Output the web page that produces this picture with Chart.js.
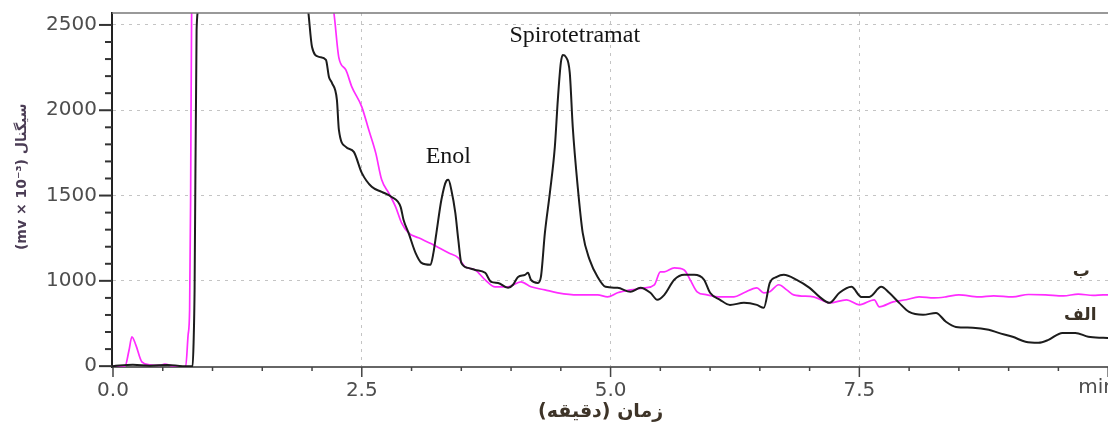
<!DOCTYPE html>
<html>
<head>
<meta charset="utf-8">
<script src="https://cdn.jsdelivr.net/npm/chart.js@4.4.1/dist/chart.umd.min.js"></script>
<style>
  html, body { margin: 0; padding: 0; background: #fff; overflow: hidden; width: 1108px; height: 427px; }
  #wrap { width: 1150px; height: 427px; }
  canvas { display: block; direction: rtl; }
</style>
</head>
<body>
<div id="wrap"><canvas id="grafico" width="1150" height="427"></canvas></div>
<script>
// trace "الف" (black) : time in min / signal
// note: the source y axis jumps from "0" straight to "1000", so the bottom tick sits at 500 here
var tempoA = [0.00, 0.20, 0.37, 0.55, 0.70, 0.80, 0.81, 0.82, 0.84, 0.86, 0.90, 1.90, 1.96, 2.00, 2.07, 2.14, 2.17, 2.20, 2.25, 2.27,
    2.34, 2.42, 2.50, 2.60, 2.70, 2.80, 2.89, 2.92, 2.97, 3.04, 3.10, 3.19, 3.22, 3.25, 3.30, 3.35, 3.37, 3.40, 3.44, 3.47,
    3.50, 3.57, 3.64, 3.74, 3.80, 3.87, 3.97, 4.02, 4.07, 4.14, 4.17, 4.20, 4.27, 4.30, 4.34, 4.39, 4.44, 4.47, 4.50, 4.52,
    4.55, 4.59, 4.62, 4.67, 4.72, 4.79, 4.87, 4.95, 5.07, 5.20, 5.30, 5.40, 5.47, 5.54, 5.64, 5.74, 5.84, 5.94, 6.00, 6.10,
    6.20, 6.34, 6.47, 6.54, 6.60, 6.67, 6.74, 6.87, 7.00, 7.10, 7.20, 7.30, 7.42, 7.52, 7.60, 7.72, 7.80, 7.90, 8.00, 8.14,
    8.27, 8.37, 8.47, 8.64, 8.80, 8.90, 9.04, 9.17, 9.30, 9.40, 9.54, 9.67, 9.80, 9.95, 10.30];
var sinalA = [500, 508, 503, 507, 500, 500, 640, 950, 2470, 2600, 2800, 2800, 2590, 2371, 2313, 2295, 2195, 2160, 2061, 1885,
    1785, 1756, 1633, 1551, 1522, 1492, 1434, 1357, 1281, 1164, 1105, 1094, 1164, 1281, 1475, 1586, 1592, 1533, 1398, 1240,
    1105, 1076, 1064, 1047, 994, 988, 959, 977, 1023, 1035, 1047, 1006, 988, 1023, 1281, 1516, 1785, 2061, 2277, 2324,
    2313, 2219, 1902, 1551, 1281, 1123, 1023, 965, 959, 936, 959, 930, 889, 918, 1006, 1035, 1035, 1006, 930, 889,
    859, 871, 859, 842, 988, 1023, 1035, 1006, 959, 906, 871, 930, 965, 906, 906, 965, 930, 871, 818, 801,
    812, 760, 730, 725, 713, 695, 672, 643, 637, 654, 695, 695, 672, 666, 660];

// trace "ب" (magenta)
var tempoB = [0.00, 0.12, 0.16, 0.19, 0.23, 0.29, 0.37, 0.47, 0.52, 0.60, 0.73, 0.755, 0.77, 0.78, 0.79, 0.82, 2.15, 2.22, 2.27, 2.34,
    2.40, 2.50, 2.57, 2.64, 2.70, 2.77, 2.84, 2.90, 2.97, 3.07, 3.20, 3.37, 3.47, 3.54, 3.64, 3.74, 3.84, 3.97, 4.10, 4.20,
    4.34, 4.47, 4.67, 4.87, 4.97, 5.07, 5.20, 5.34, 5.44, 5.50, 5.54, 5.64, 5.74, 5.80, 5.87, 5.97, 6.10, 6.24, 6.34, 6.47,
    6.54, 6.60, 6.69, 6.77, 6.84, 7.04, 7.20, 7.37, 7.50, 7.65, 7.70, 7.84, 7.97, 8.10, 8.25, 8.37, 8.50, 8.70, 8.85, 9.04,
    9.20, 9.37, 9.55, 9.70, 9.85, 9.95, 10.30];
var sinalB = [500, 500, 590, 672, 623, 525, 508, 505, 512, 500, 496, 684, 830, 1475, 2570, 2800, 2800, 2570, 2307, 2236,
    2137, 2020, 1885, 1750, 1592, 1516, 1434, 1340, 1281, 1252, 1217, 1164, 1135, 1082, 1064, 1006, 965, 965, 994, 965,
    947, 930, 918, 918, 906, 930, 947, 959, 977, 1053, 1053, 1076, 1064, 1006, 936, 918, 906, 906, 930, 959,
    930, 936, 977, 947, 918, 906, 871, 889, 859, 889, 848, 877, 889, 906, 900, 906, 918, 906, 912, 906,
    920, 918, 912, 922, 915, 918, 918];

var xTicks = [0, 2.5, 5, 7.5];
var xTickLabels = ['0.0', '2.5', '5.0', '7.5'];
var yTicks = [500, 1000, 1500, 2000, 2500];
var yTickLabels = ['0', '1000', '1500', '2000', '2500'];

// peak names and trace names (text only)
var rotulos = [
    { texto: 'Enol', x: 3.37, y: 1691, fonte: '24px "Liberation Serif"', cor: '#151515' },
    { texto: 'Spirotetramat', x: 4.64, y: 2400, fonte: '24px "Liberation Serif"', cor: '#151515' },
    { texto: 'ب', x: 9.73, y: 1030, fonte: 'bold 17px "DejaVu Sans"', cor: '#3b3226' },
    { texto: 'الف', x: 9.72, y: 770, fonte: 'bold 17px "DejaVu Sans"', cor: '#3b3226' }
];
var tituloX = 'زمان (دقیقه)';
var tituloY = 'سیگنال (mv × 10⁻³)';

function pontos(t, v) {
    return t.map((x, i) => ({ x: x, y: v[i] }));
}

const extras = {
    id: 'extras',
    afterDatasetsDraw(chart) {
        const { ctx, scales } = chart;
        ctx.save();
        rotulos.forEach(r => {
            ctx.font = r.fonte;
            ctx.fillStyle = r.cor;
            ctx.textAlign = 'center';
            ctx.textBaseline = 'alphabetic';
            ctx.fillText(r.texto, scales.x.getPixelForValue(r.x), scales.y.getPixelForValue(r.y));
        });
        ctx.restore();
    },
    afterDraw(chart) {
        const { ctx, chartArea, scales } = chart;
        const x = scales.x, y = scales.y;
        ctx.save();
        // top frame line
        ctx.strokeStyle = '#777';
        ctx.lineWidth = 1.5;
        ctx.beginPath();
        ctx.moveTo(chartArea.left, chartArea.top);
        ctx.lineTo(chartArea.right, chartArea.top);
        ctx.stroke();
        // x ticks every 0.5 min
        ctx.strokeStyle = '#444';
        ctx.lineWidth = 1.5;
        for (let i = 0; i <= 20; i++) {
            const px = x.getPixelForValue(i * 0.5);
            const len = i % 5 == 0 ? 10 : 4;
            ctx.beginPath();
            ctx.moveTo(px, chartArea.bottom);
            ctx.lineTo(px, chartArea.bottom + len);
            ctx.stroke();
        }
        // y ticks every 100
        ctx.strokeStyle = '#333';
        ctx.lineWidth = 2;
        for (let v = 500; v <= 2500; v += 100) {
            const py = y.getPixelForValue(v);
            const len = v % 500 == 0 ? 13 : 7;
            ctx.beginPath();
            ctx.moveTo(chartArea.left, py);
            ctx.lineTo(chartArea.left - len, py);
            ctx.stroke();
        }
        // unit at the end of the time axis
        ctx.font = '20px "DejaVu Sans"';
        ctx.fillStyle = '#4d4d4d';
        ctx.textAlign = 'left';
        ctx.textBaseline = 'middle';
        ctx.fillText('min', x.getPixelForValue(9.70), chartArea.bottom + 21);
        // axis titles
        ctx.font = 'bold 19px "DejaVu Sans"';
        ctx.fillStyle = '#3e3428';
        ctx.textAlign = 'center';
        ctx.fillText(tituloX, x.getPixelForValue(4.9), chartArea.bottom + 45);
        ctx.translate(22, y.getPixelForValue(1610));
        ctx.rotate(-Math.PI / 2);
        ctx.font = 'bold 14px "DejaVu Sans"';
        ctx.fillStyle = '#4b3d55';
        ctx.fillText(tituloY, 0, 0);
        ctx.restore();
    }
};

var ctx = document.getElementById('grafico').getContext('2d');
var grafico = new Chart(ctx, {
    type: 'line',
    data: {
        datasets: [
            {
                label: 'الف',
                data: pontos(tempoA, sinalA),
                borderColor: '#1c1c1c',
                borderWidth: 2,
                pointRadius: 0,
                cubicInterpolationMode: 'monotone',
                fill: false
            },
            {
                label: 'ب',
                data: pontos(tempoB, sinalB),
                borderColor: '#ff2cff',
                borderWidth: 1.7,
                pointRadius: 0,
                cubicInterpolationMode: 'monotone',
                fill: false
            }
        ]
    },
    options: {
        responsive: false,
        animation: false,
        events: [],
        layout: { padding: { top: 13, right: 12, left: 0, bottom: 0 } },
        plugins: {
            legend: { display: false },
            tooltip: { enabled: false }
        },
        scales: {
            x: {
                type: 'linear',
                min: -0.01,
                max: 10.3,
                afterFit: s => { s.height = 60; s.paddingLeft = 0; s.paddingRight = 0; },
                afterBuildTicks: s => { s.ticks = xTicks.map(v => ({ value: v })); },
                ticks: {
                    callback: (v, i) => xTickLabels[i],
                    font: { family: 'DejaVu Sans', size: 20 },
                    color: '#4d4d4d',
                    padding: 12,
                    maxRotation: 0
                },
                grid: { color: '#c4c4c4', drawTicks: false },
                border: { color: '#666', width: 2, dash: [3, 5] }
            },
            y: {
                min: 495,
                max: 2570,
                afterFit: s => { s.width = 112; s.paddingTop = 0; s.paddingBottom = 0; },
                afterBuildTicks: s => { s.ticks = yTicks.map(v => ({ value: v })); },
                ticks: {
                    callback: (v, i) => yTickLabels[i],
                    font: { family: 'DejaVu Sans', size: 20 },
                    color: '#4d4d4d',
                    padding: 15
                },
                grid: { color: '#c4c4c4', drawTicks: false },
                border: { color: '#222', width: 2, dash: [3, 5] }
            }
        }
    },
    plugins: [extras]
});
</script>
</body>
</html>
